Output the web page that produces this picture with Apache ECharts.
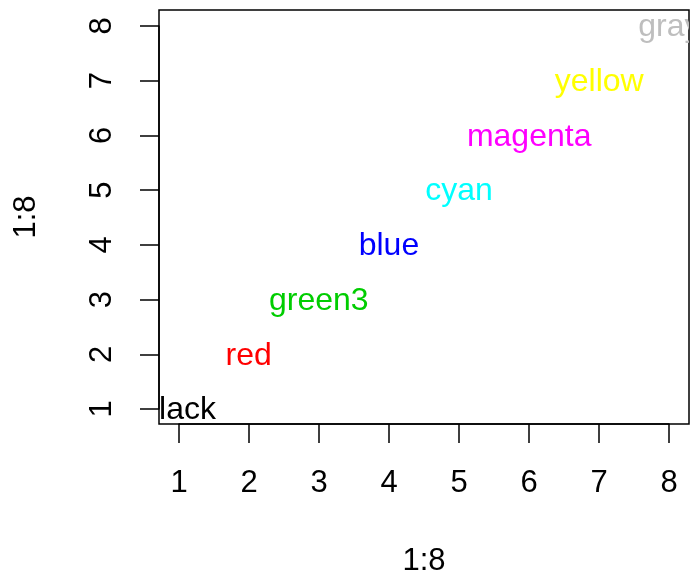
<!DOCTYPE html>
<html>
<head>
<meta charset="utf-8">
<script src="https://cdn.jsdelivr.net/npm/echarts@6/dist/echarts.min.js"></script>
<style>html,body{margin:0;padding:0;background:#fff}#c{width:693px;height:578px}</style>
</head>
<body>
<div id="c"></div>
<script>
const labels = ['black','red','green3','blue','cyan','magenta','yellow','gray'];
const xValues = [1,2,3,4,5,6,7,8];
const yValues = [1,2,3,4,5,6,7,8];
const colors = ['#000000','#FF0000','#00CD00','#0000FF','#00FFFF','#FF00FF','#FFFF00','#BEBEBE'];
const tickValues = [1,2,3,4,5,6,7,8];
const xTitle = '1:8';
const yTitle = '1:8';

const FONT = '"Liberation Sans", Arial, Helvetica, sans-serif';
const chart = echarts.init(document.getElementById('c'), null, {renderer:'canvas'});
const data = xValues.map((x,i)=>[x, yValues[i]]);
chart.setOption({
  animation:false,
  backgroundColor:'#fff',
  grid:[
    {left:159, top:10, width:530, height:414, show:true, borderColor:'#000', borderWidth:1.5, backgroundColor:'transparent'},
    {left:179, top:26, width:490, height:383, show:false}
  ],
  xAxis:[
    {type:'value', gridIndex:0, min:0.72, max:8.28, show:false},
    {type:'value', gridIndex:1, min:tickValues[0], max:tickValues[tickValues.length-1], interval:1, offset:15,
     axisLine:{show:true, lineStyle:{color:'#000', width:1.5}},
     axisTick:{show:true, length:19, lineStyle:{color:'#000', width:1.5}},
     splitLine:{show:false},
     axisLabel:{show:true, color:'#000', fontSize:31, fontFamily:FONT, margin:44}}
  ],
  yAxis:[
    {type:'value', gridIndex:0, min:0.72, max:8.28, show:false},
    {type:'value', gridIndex:1, min:tickValues[0], max:tickValues[tickValues.length-1], interval:1, offset:20,
     axisLine:{show:true, lineStyle:{color:'#000', width:1.5}},
     axisTick:{show:true, length:19, lineStyle:{color:'#000', width:1.5}},
     splitLine:{show:false},
     axisLabel:{show:true, color:'#000', fontSize:31, fontFamily:FONT, margin:41, rotate:90}}
  ],
  graphic:[
    {type:'text', x:424, y:561, style:{text:xTitle, font:'31px '+FONT, fill:'#000', align:'center', verticalAlign:'middle'}},
    {type:'text', x:26, y:217, rotation:Math.PI/2, style:{text:yTitle, font:'31px '+FONT, fill:'#000', align:'center', verticalAlign:'middle'}}
  ],
  series:[{
    type:'custom', xAxisIndex:0, yAxisIndex:0, clip:true,
    data:data,
    renderItem:function(params, api){
      const pt = api.coord([api.value(0), api.value(1)]);
      return {type:'text', x:pt[0], y:pt[1]+2,
        style:{text:labels[params.dataIndex], fill:colors[params.dataIndex], font:'32px '+FONT, align:'center', verticalAlign:'middle'}};
    }
  }]
});
</script>
</body>
</html>
